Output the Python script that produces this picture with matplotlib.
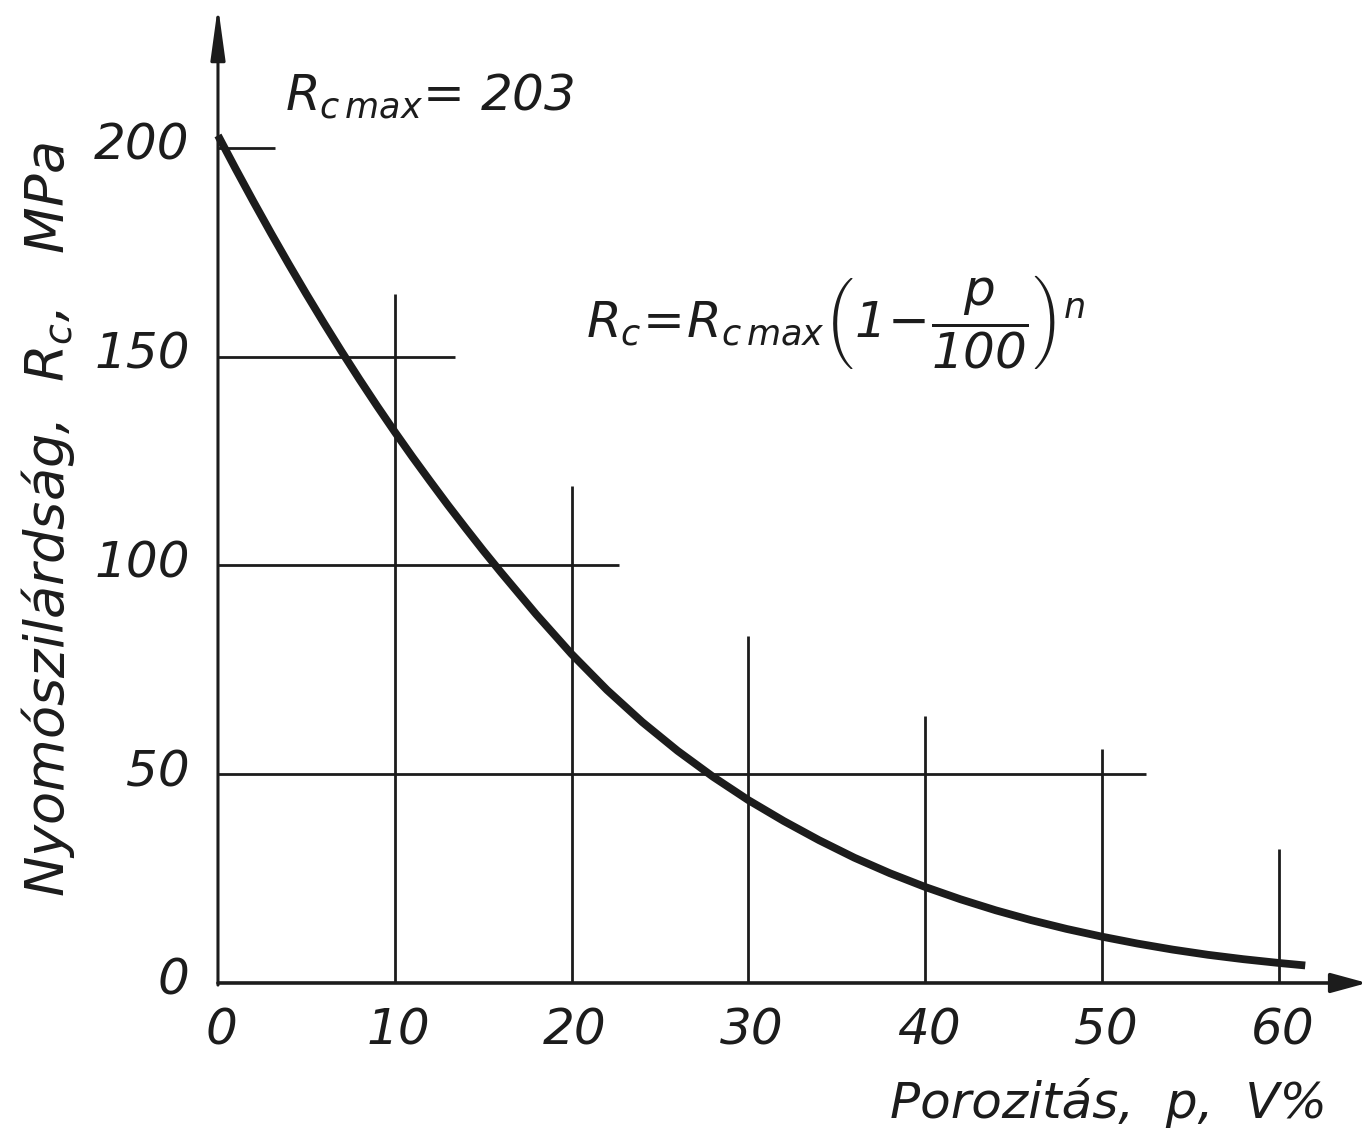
import matplotlib.pyplot as plt

# compressive strength of porous material vs. porosity
porosity = [0, 1, 2, 3, 4, 5, 6, 7, 8, 9, 10, 11, 12, 13, 14, 15, 16, 18, 20, 22, 24, 26, 28, 30,
            32, 34, 36, 38, 40, 42, 44, 46, 48, 50, 52, 54, 56, 58, 60, 61.5]
strength = [203, 195, 187.2, 179.6, 172.2, 165, 158, 151.2, 144.6, 138.2, 132, 126, 120.2, 114.5,
            109, 103.6, 98.4, 88.3, 78.8, 70.2, 62.5, 55.6, 49.4, 43.8,
            38.8, 34.2, 30.0, 26.3, 23.0, 20.05, 17.4, 15.05, 12.95, 11.1, 9.45, 8.0, 6.75, 5.7, 4.8, 4.2]

x_ticks = [0, 10, 20, 30, 40, 50, 60]
y_ticks = [0, 50, 100, 150, 200]

# partial grid lines, as drawn on the original chart
v_grid_x = [10, 20, 30, 40, 50, 60]
v_grid_top = [165, 119, 83, 64, 56, 32]
h_grid_y = [200, 150, 100, 50]
h_grid_end = [3.2, 13.4, 22.7, 52.5]

rc_max = 203

plt.rcParams['font.family'] = ['DejaVu Sans']
plt.rcParams['font.style'] = 'italic'
plt.rcParams['mathtext.fontset'] = 'custom'
plt.rcParams['mathtext.rm'] = 'DejaVu Sans:italic'
plt.rcParams['mathtext.it'] = 'DejaVu Sans:italic'
plt.rcParams['mathtext.sf'] = 'DejaVu Sans:italic'

ink = '#1c1c1c'
fs = 36

fig = plt.figure(figsize=(13.71, 11.36), dpi=100)
ax = fig.add_axes([0, 0, 1, 1])
ax.set_xlim(-12.33, 65.22)
ax.set_ylim(-36.65, 235.45)
ax.axis('off')

# grid stubs
for gx, top in zip(v_grid_x, v_grid_top):
    ax.plot([gx, gx], [0, top], color=ink, lw=2.0, solid_capstyle='butt')
for gy, end in zip(h_grid_y, h_grid_end):
    ax.plot([0, end], [gy, gy], color=ink, lw=2.0, solid_capstyle='butt')

# axes with arrow heads
ax.annotate('', xy=(0, 234), xytext=(0, -0.5),
            arrowprops=dict(arrowstyle='-|>,head_length=1.6,head_width=0.22',
                            mutation_scale=20, color=ink, lw=2.2,
                            shrinkA=0, shrinkB=0))
ax.annotate('', xy=(65.0, 0), xytext=(0, 0),
            arrowprops=dict(arrowstyle='-|>,head_length=1.1,head_width=0.3',
                            mutation_scale=20, color=ink, lw=2.6,
                            shrinkA=0, shrinkB=0))

# strength curve
ax.plot(porosity, strength, color=ink, lw=5.6, solid_capstyle='butt',
        solid_joinstyle='round')

# tick labels
for t in x_ticks:
    ax.text(t + 0.2, -11.3, str(t), ha='center', va='center', fontsize=fs, color=ink)
for t in y_ticks:
    ax.text(-1.6, t + 0.5, str(t), ha='right', va='center', fontsize=fs, color=ink)

# axis titles
ax.text(-9.6, 111, r'Nyomószilárdság,  $R_c$,   MPa', rotation=90,
        ha='center', va='center', fontsize=39, color=ink)
ax.text(50.4, -28.7, 'Porozitás,  p,  V%', ha='center', va='center',
        fontsize=fs, color=ink)

# annotations
ax.text(3.8, 209, r'$R_{c\,max}$= ' + str(rc_max), ha='left', va='baseline',
        fontsize=fs, color=ink)
ax.text(20.8, 154.5, r'$R_c\!=\!R_{c\,max}\left(1\!-\!\dfrac{p}{100}\right)^n$',
        ha='left', va='baseline', fontsize=36, color=ink)

fig.savefig('out.png', dpi=100)
